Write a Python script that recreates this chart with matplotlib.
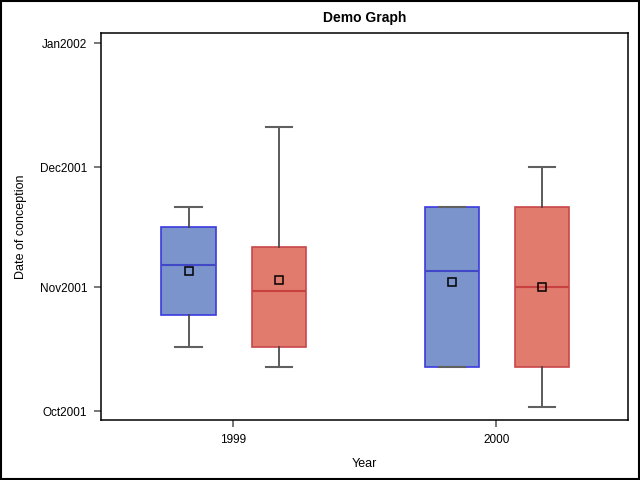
import numpy as np
import matplotlib
matplotlib.use("Agg")
import matplotlib.pyplot as plt
import matplotlib.dates as mdates
from matplotlib.patches import Rectangle

plt.rcParams['font.family'] = ['Liberation Sans', 'DejaVu Sans']

years = ["1999", "2000"]
groups = ["A", "B"]

# box statistics per (year, group), dates
whislo = [["2001-10-17", "2001-10-12"], ["2001-10-12", "2001-10-02"]]
q1 = [["2001-10-25", "2001-10-17"], ["2001-10-12", "2001-10-12"]]
med = [["2001-11-06 14:00", "2001-10-31"], ["2001-11-05", "2001-11-01"]]
mean = [["2001-11-05 02:00", "2001-11-02 18:00"], ["2001-11-02 08:00", "2001-11-01"]]
q3 = [["2001-11-16", "2001-11-11"], ["2001-11-21", "2001-11-21"]]
whishi = [["2001-11-21", "2001-12-11"], ["2001-11-21", "2001-12-01"]]

ytick_dates = ["2001-10-01", "2001-11-01", "2001-12-01", "2002-01-01"]
ytick_labels = ["Oct2001", "Nov2001", "Dec2001", "Jan2002"]

fill_colors = ["#7B94CC", "#E07B6E"]
edge_colors = ["#3A3AE0", "#C8474A"]
median_colors = ["#4048C8", "#C84040"]


def d(s):
    return mdates.datestr2num(s)


fig = plt.figure(figsize=(6.4, 4.8), dpi=100)
ax = fig.add_axes([0.158, 0.125, 0.823, 0.806])

offsets = [-0.168, 0.175]
width = 0.206
for g in range(len(groups)):
    stats = []
    for i in range(len(years)):
        stats.append(dict(whislo=d(whislo[i][g]), q1=d(q1[i][g]), med=d(med[i][g]),
                          mean=d(mean[i][g]), q3=d(q3[i][g]), whishi=d(whishi[i][g]),
                          fliers=[]))
    pos = [i + offsets[g] for i in range(len(years))]
    ax.bxp(stats, positions=pos, widths=width, patch_artist=True, showmeans=True,
           capwidths=0.10, manage_ticks=False,
           boxprops=dict(facecolor=fill_colors[g], edgecolor=edge_colors[g], linewidth=1.2),
           medianprops=dict(color=median_colors[g], linewidth=1.5),
           whiskerprops=dict(color="#404040", linewidth=1.2),
           capprops=dict(color="#606060", linewidth=1.5),
           meanprops=dict(marker="s", markerfacecolor="none", markeredgecolor="black",
                          markersize=6, markeredgewidth=1.1))

ax.set_xlim(-0.5, 1.5)
ax.set_xticks(range(len(years)))
ax.set_xticklabels(years)
ax.set_ylim(d("2001-10-01") - 2.25, d("2002-01-01") + 2.5)
ax.set_yticks([d(s) for s in ytick_dates])
ax.set_yticklabels(ytick_labels)

ax.tick_params(direction="out", length=5, width=1.2, color="#606060", labelsize=8.5, pad=5)
for sp in ax.spines.values():
    sp.set_linewidth(1.1)
    sp.set_color("black")

ax.set_title("Demo Graph", fontsize=10, fontweight="bold", pad=8)
ax.set_xlabel("Year", fontsize=9, labelpad=9)
ax.set_ylabel("Date of conception", fontsize=9, labelpad=9)

fig.patches.append(Rectangle((0.001, 0.002), 0.997, 0.996, transform=fig.transFigure,
                             fill=False, edgecolor="black", linewidth=1.5))

fig.savefig("out.png", dpi=100)
